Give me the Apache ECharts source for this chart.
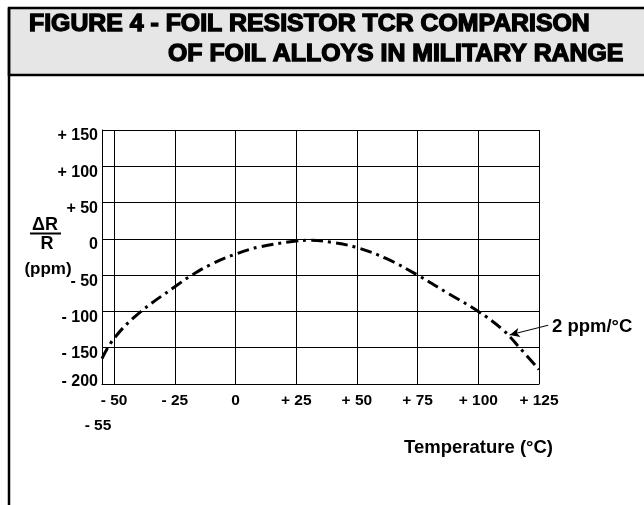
<!DOCTYPE html>
<html>
<head>
<meta charset="utf-8">
<script src="https://cdn.jsdelivr.net/npm/echarts@6/dist/echarts.min.js"></script>
<style>html,body{margin:0;padding:0;background:#fff}#c{width:644px;height:505px}</style>
</head>
<body>
<div id="c"></div>
<script>
// ---- data ----
const tempC = [-55, -50, -40, -25, -18, -10, 0, 10, 25, 30, 40, 50, 62, 75, 88, 100, 110, 117, 125];
const deltaPpm = [-165, -137, -103, -66, -50, -35, -21, -11, -3, -2, -5, -12, -27, -50, -76, -100, -125, -150, -180];
const xTicks = [-50, -25, 0, 25, 50, 75, 100, 125];
const xTickLabels = ['- 50', '- 25', '0', '+ 25', '+ 50', '+ 75', '+ 100', '+ 125'];
const yTicks = [-200, -150, -100, -50, 0, 50, 100, 150];
const yTickLabels = ['- 200', '- 150', '- 100', '- 50', '0', '+ 50', '+ 100', '+ 150'];
const titleLines = ['FIGURE 4 - FOIL RESISTOR TCR COMPARISON', 'OF FOIL ALLOYS IN MILITARY RANGE'];
const curveLabel = '2 ppm/°C';
const arrowFrom = [128.8, -119.0];
const arrowTo = [112.9, -132.4];

const FONT = "'Liberation Sans', Arial, Helvetica, sans-serif";
const chart = echarts.init(document.getElementById('c'), null, {renderer: 'canvas'});

function lbl(list, ticks, v) {
  const i = ticks.indexOf(v);
  return i >= 0 ? list[i] : '';
}

chart.setOption({
  animation: false,
  backgroundColor: '#fff',
  grid: {left: 102, right: 105, top: 130, bottom: 121},
  xAxis: {
    type: 'value', min: -55, max: 125,
    axisLine: {show: true, onZero: false, lineStyle: {color: '#000', width: 1}},
    axisTick: {show: false, customValues: xTicks},
    splitLine: {show: true, lineStyle: {color: '#000', width: 1}},
    axisLabel: {
      customValues: xTicks, margin: 9, color: '#000', fontFamily: FONT, fontWeight: 'bold', fontSize: 15.5,
      formatter: v => lbl(xTickLabels, xTicks, v)
    }
  },
  yAxis: {
    type: 'value', min: -200, max: 150, interval: 50,
    axisLine: {show: true, onZero: false, lineStyle: {color: '#000', width: 1}},
    axisTick: {show: false},
    splitLine: {show: true, lineStyle: {color: '#000', width: 1}},
    axisLabel: {
      margin: 4, color: '#000', fontFamily: FONT, fontWeight: 'bold', fontSize: 16,
      formatter: v => v === -200 ? '{u|' + lbl(yTickLabels, yTicks, v) + '}' : '{d|' + lbl(yTickLabels, yTicks, v) + '}',
      rich: {
        d: {padding: [12, 0, 0, 0], fontFamily: FONT, fontWeight: 'bold', fontSize: 16, color: '#000'},
        u: {padding: [0, 0, 5, 0], fontFamily: FONT, fontWeight: 'bold', fontSize: 16, color: '#000'}
      }
    }
  },
  series: [{
    type: 'line',
    data: tempC.map((x, i) => [x, deltaPpm[i]]),
    smooth: 0.4,
    showSymbol: false,
    clip: false,
    lineStyle: {color: '#000', width: 3, type: [12, 5, 3, 5]}
  }],
  graphic: [
    {type: 'rect', z: 10, shape: {x: 9, y: 8, width: 660, height: 67},
     style: {fill: '#e6e6e6', stroke: '#000', lineWidth: 2.5}},
    {type: 'line', z: 10, shape: {x1: 9, y1: 8, x2: 9, y2: 505}, style: {stroke: '#000', lineWidth: 2.5}},
    {type: 'text', z: 11, x: 29, y: 25, scaleX: 1.08,
     style: {text: titleLines[0], font: "bold 23px " + FONT, fill: '#000', stroke: '#000', lineWidth: 1.3, verticalAlign: 'middle', align: 'left'}},
    {type: 'text', z: 11, x: 168, y: 55, scaleX: 1.08,
     style: {text: titleLines[1], font: "bold 23px " + FONT, fill: '#000', stroke: '#000', lineWidth: 1.3, verticalAlign: 'middle', align: 'left'}},
    {type: 'text', z: 11, x: 45, y: 225,
     style: {text: 'ΔR', font: "bold 18px " + FONT, fill: '#000', verticalAlign: 'middle', align: 'center'}},
    {type: 'line', z: 11, shape: {x1: 30, y1: 233.5, x2: 61, y2: 233.5}, style: {stroke: '#000', lineWidth: 2}},
    {type: 'text', z: 11, x: 47, y: 244,
     style: {text: 'R', font: "bold 18px " + FONT, fill: '#000', verticalAlign: 'middle', align: 'center'}},
    {type: 'text', z: 11, x: 48, y: 269,
     style: {text: '(ppm)', font: "bold 17px " + FONT, fill: '#000', verticalAlign: 'middle', align: 'center'}},
    {type: 'text', z: 11, x: 98, y: 426,
     style: {text: '- 55', font: "bold 15.5px " + FONT, fill: '#000', verticalAlign: 'middle', align: 'center'}},
    {type: 'text', z: 11, x: 553, y: 448,
     style: {text: 'Temperature (°C)', font: "bold 18.5px " + FONT, fill: '#000', verticalAlign: 'middle', align: 'right'}},
    {type: 'text', z: 11, x: 552, y: 327,
     style: {text: curveLabel, font: "bold 18.5px " + FONT, fill: '#000', verticalAlign: 'middle', align: 'left'}}
  ]
});

// annotation arrow, placed through the chart's own scales
const p1 = chart.convertToPixel({gridIndex: 0}, arrowFrom);
const p2 = chart.convertToPixel({gridIndex: 0}, arrowTo);
chart.setOption({
  series: [{
    markLine: {
      silent: true,
      symbol: ['none', 'arrow'],
      symbolSize: [7, 10],
      label: {show: false},
      lineStyle: {color: '#000', width: 1, type: 'solid'},
      data: [[{x: p1[0], y: p1[1]}, {x: p2[0], y: p2[1]}]]
    }
  }]
});
</script>
</body>
</html>
